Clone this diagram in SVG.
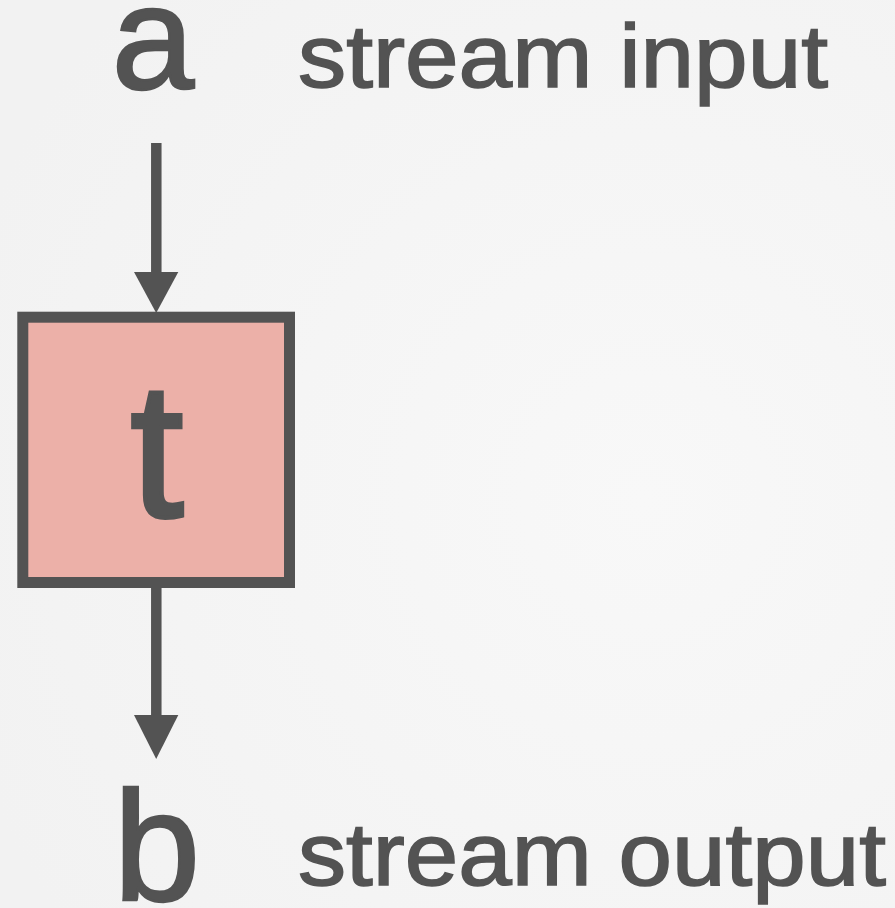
<svg xmlns="http://www.w3.org/2000/svg" width="895" height="908" viewBox="0 0 895 908">
  <defs>
    <radialGradient id="bg" cx="0.72" cy="0.55" r="0.8">
      <stop offset="0" stop-color="#f8f8f8"/>
      <stop offset="1" stop-color="#f2f2f2"/>
    </radialGradient>
  </defs>
  <style>
    .ink { fill: #535353; stroke: #535353; font-family: "Liberation Sans", Arial, sans-serif; }
    .big { stroke-width: 2.5px; }
    .lab { font-size: 89px; stroke-width: 1.6px; }
    .conn { stroke: #535353; stroke-width: 10.5; fill: none; }
    .head { fill: #535353; }
  </style>

  <rect width="895" height="908" fill="url(#bg)"/>

  <!-- stream endpoints -->
  <g id="input">
    <text class="ink big" x="153" y="89" text-anchor="middle" font-size="148">a</text>
    <text class="ink lab" x="298" y="87" textLength="530" lengthAdjust="spacingAndGlyphs">stream input</text>
  </g>

  <g id="output">
    <text class="ink big" x="157" y="900" text-anchor="middle" font-size="156">b</text>
    <text class="ink lab" x="298" y="885" textLength="588" lengthAdjust="spacingAndGlyphs">stream output</text>
  </g>

  <!-- transform block -->
  <g id="transform">
    <rect x="22.8" y="317.2" width="266.7" height="265.3" fill="#ecb0a8" stroke="#535353" stroke-width="11"/>
    <text class="ink" x="157" y="517" text-anchor="middle" font-size="192" stroke-width="4">t</text>
  </g>

  <!-- connectors -->
  <g id="connectors">
    <line class="conn" x1="156.3" y1="143" x2="156.3" y2="276"/>
    <path class="head" d="M134,272 L178.3,272 L156.2,313 Z"/>
    <line class="conn" x1="156.3" y1="588" x2="156.3" y2="718"/>
    <path class="head" d="M134,715 L178.3,715 L156.2,759 Z"/>
  </g>
</svg>
